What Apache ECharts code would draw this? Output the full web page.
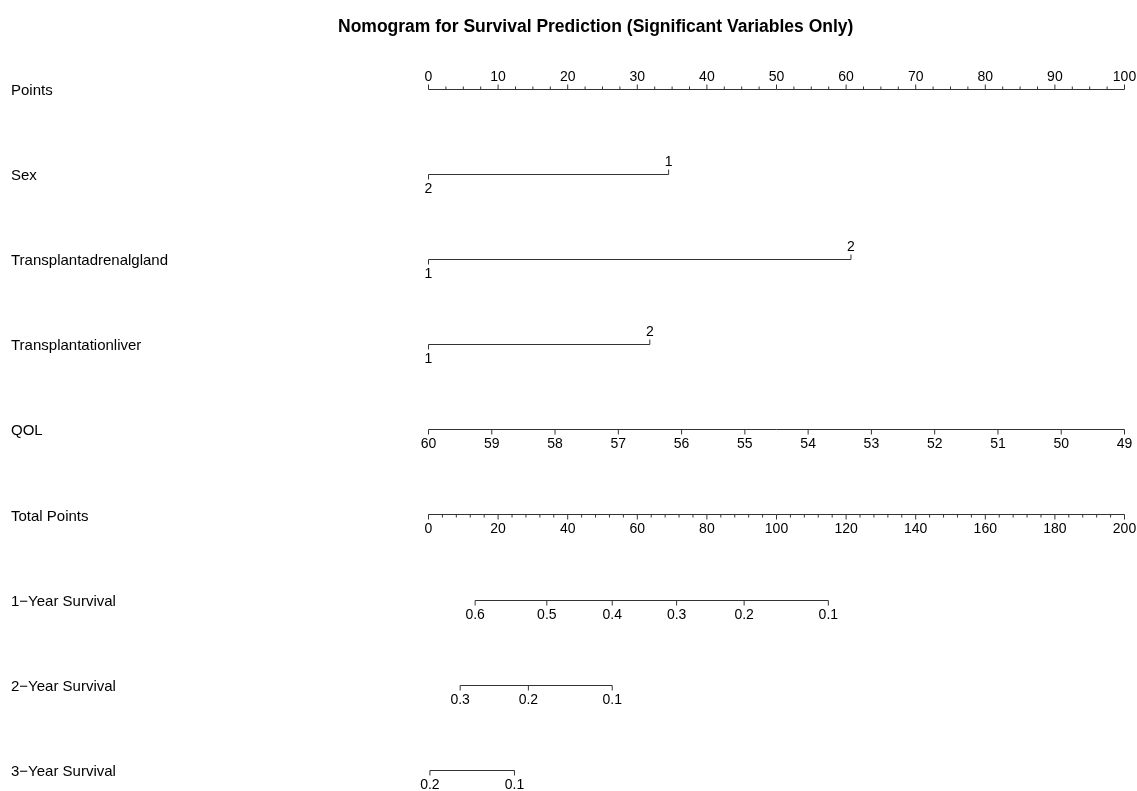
<!DOCTYPE html>
<html>
<head>
<meta charset="utf-8">
<script src="https://cdn.jsdelivr.net/npm/echarts@6/dist/echarts.min.js"></script>
<style>
html,body{margin:0;padding:0;background:#fff;}
#chart{width:1137px;height:791px;}
</style>
</head>
<body>
<div id="chart"></div>
<script>
// ---------- data ----------
const titleText = 'Nomogram for Survival Prediction (Significant Variables Only)';
const rowLabels = ['Points', 'Sex', 'Transplantadrenalgland', 'Transplantationliver', 'QOL',
  'Total Points', '1\u2212Year Survival', '2\u2212Year Survival', '3\u2212Year Survival'];

const pointsTicks = [0, 10, 20, 30, 40, 50, 60, 70, 80, 90, 100];
const pointsMinorStep = 2.5;

const sexLevels = ['1', '2'];
const sexPoints = [34.5, 0];

const adrenalLevels = ['1', '2'];
const adrenalPoints = [0, 60.7];

const liverLevels = ['1', '2'];
const liverPoints = [0, 31.8];

const qolTicks = [60, 59, 58, 57, 56, 55, 54, 53, 52, 51, 50, 49];

const totalTicks = [0, 20, 40, 60, 80, 100, 120, 140, 160, 180, 200];
const totalMinorStep = 4;

const surv1Labels = ['0.6', '0.5', '0.4', '0.3', '0.2', '0.1'];
const surv1Total = [13.4, 34.0, 52.8, 71.3, 90.7, 114.9];

const surv2Labels = ['0.3', '0.2', '0.1'];
const surv2Total = [9.1, 28.7, 52.8];

const surv3Labels = ['0.2', '0.1'];
const surv3Total = [0.4, 24.7];

// ---------- style ----------
const FONT = '"Liberation Sans", Arial, Helvetica, sans-serif';
const LINE_COLOR = '#333';
const TEXT_COLOR = '#000';
const TICK_FONT = 14;

function minorsOf(ticks, step) {
  const out = [];
  for (let i = 0; i < ticks.length - 1; i++) {
    for (let v = ticks[i] + step; v < ticks[i + 1] - 1e-9; v += step) out.push(v);
  }
  return out;
}

// items: {x, kind:'line'|'major'|'minor', x2, label, dir}
function rowSeries(row, xAxisIndex, items) {
  return {
    type: 'custom',
    coordinateSystem: 'cartesian2d',
    xAxisIndex: xAxisIndex,
    yAxisIndex: 0,
    clip: false,
    silent: true,
    animation: false,
    data: items.map(it => [it.x, row]),
    renderItem: function (params, api) {
      const it = items[params.dataIndex];
      const p = api.coord([it.x, row]);
      const y = Math.round(p[1]) + 0.5;
      const lineStyle = { stroke: LINE_COLOR, lineWidth: 1 };
      if (it.kind === 'line') {
        const p2 = api.coord([it.x2, row]);
        return { type: 'line', shape: { x1: p[0], y1: y, x2: p2[0], y2: y }, style: lineStyle };
      }
      const len = it.kind === 'major' ? 5 : 3;
      const d = it.dir === 'up' ? -1 : 1;
      const children = [{
        type: 'line', shape: { x1: p[0], y1: y, x2: p[0], y2: y + d * len }, style: lineStyle
      }];
      if (it.label != null) {
        children.push({
          type: 'text',
          style: {
            text: it.label, x: p[0], y: y + (d < 0 ? -12.5 : 14.5),
            align: 'center', verticalAlign: 'middle',
            fill: TEXT_COLOR, font: TICK_FONT + 'px ' + FONT
          }
        });
      }
      return { type: 'group', children: children };
    }
  };
}

function numericRow(row, axis, majors, labels, minors, dir) {
  const items = [{ x: majors[0], x2: majors[majors.length - 1], kind: 'line' }];
  minors.forEach(v => items.push({ x: v, kind: 'minor', dir: dir }));
  majors.forEach((v, i) => items.push({ x: v, kind: 'major', dir: dir, label: labels[i] }));
  return rowSeries(row, axis, items);
}

function categoricalRow(row, levels, pts) {
  const lo = Math.min.apply(null, pts), hi = Math.max.apply(null, pts);
  const items = [{ x: lo, x2: hi, kind: 'line' }];
  levels.forEach((lv, i) => {
    items.push({ x: pts[i], kind: 'major', dir: pts[i] > lo ? 'up' : 'down', label: lv });
  });
  return rowSeries(row, 0, items);
}

const series = [
  numericRow(0, 0, pointsTicks, pointsTicks.map(String), minorsOf(pointsTicks, pointsMinorStep), 'up'),
  categoricalRow(1, sexLevels, sexPoints),
  categoricalRow(2, adrenalLevels, adrenalPoints),
  categoricalRow(3, liverLevels, liverPoints),
  numericRow(4, 1, qolTicks, qolTicks.map(String), [], 'down'),
  numericRow(5, 2, totalTicks, totalTicks.map(String), minorsOf(totalTicks, totalMinorStep), 'down'),
  numericRow(6, 2, surv1Total, surv1Labels, [], 'down'),
  numericRow(7, 2, surv2Total, surv2Labels, [], 'down'),
  numericRow(8, 2, surv3Total, surv3Labels, [], 'down')
];

const hiddenAxis = { show: false };
const option = {
  backgroundColor: '#fff',
  animation: false,
  title: {
    text: titleText,
    left: 333, top: 13,
    textStyle: { fontFamily: FONT, fontSize: 17.5, fontWeight: 'bold', color: '#000' }
  },
  grid: { left: 428.5, right: 12.5, top: 88.5, bottom: 21, containLabel: false },
  xAxis: [
    Object.assign({ type: 'value', min: 0, max: 100, gridIndex: 0 }, hiddenAxis),
    Object.assign({ type: 'value', min: 49, max: 60, inverse: true, gridIndex: 0 }, hiddenAxis),
    Object.assign({ type: 'value', min: 0, max: 200, gridIndex: 0 }, hiddenAxis)
  ],
  yAxis: [{
    type: 'category', data: rowLabels, inverse: true, boundaryGap: false,
    axisLine: { show: false }, axisTick: { show: false }, splitLine: { show: false },
    axisLabel: {
      align: 'left', margin: 417.5, color: '#000', verticalAlign: 'middle',
      formatter: v => '{r|' + v + '}',
      rich: { r: { fontSize: 15, fontFamily: FONT, color: '#000', padding: [4, 0, 0, 0] } }
    }
  }],
  series: series
};

const chart = echarts.init(document.getElementById('chart'), null, { renderer: 'canvas' });
chart.setOption(option);
</script>
</body>
</html>
